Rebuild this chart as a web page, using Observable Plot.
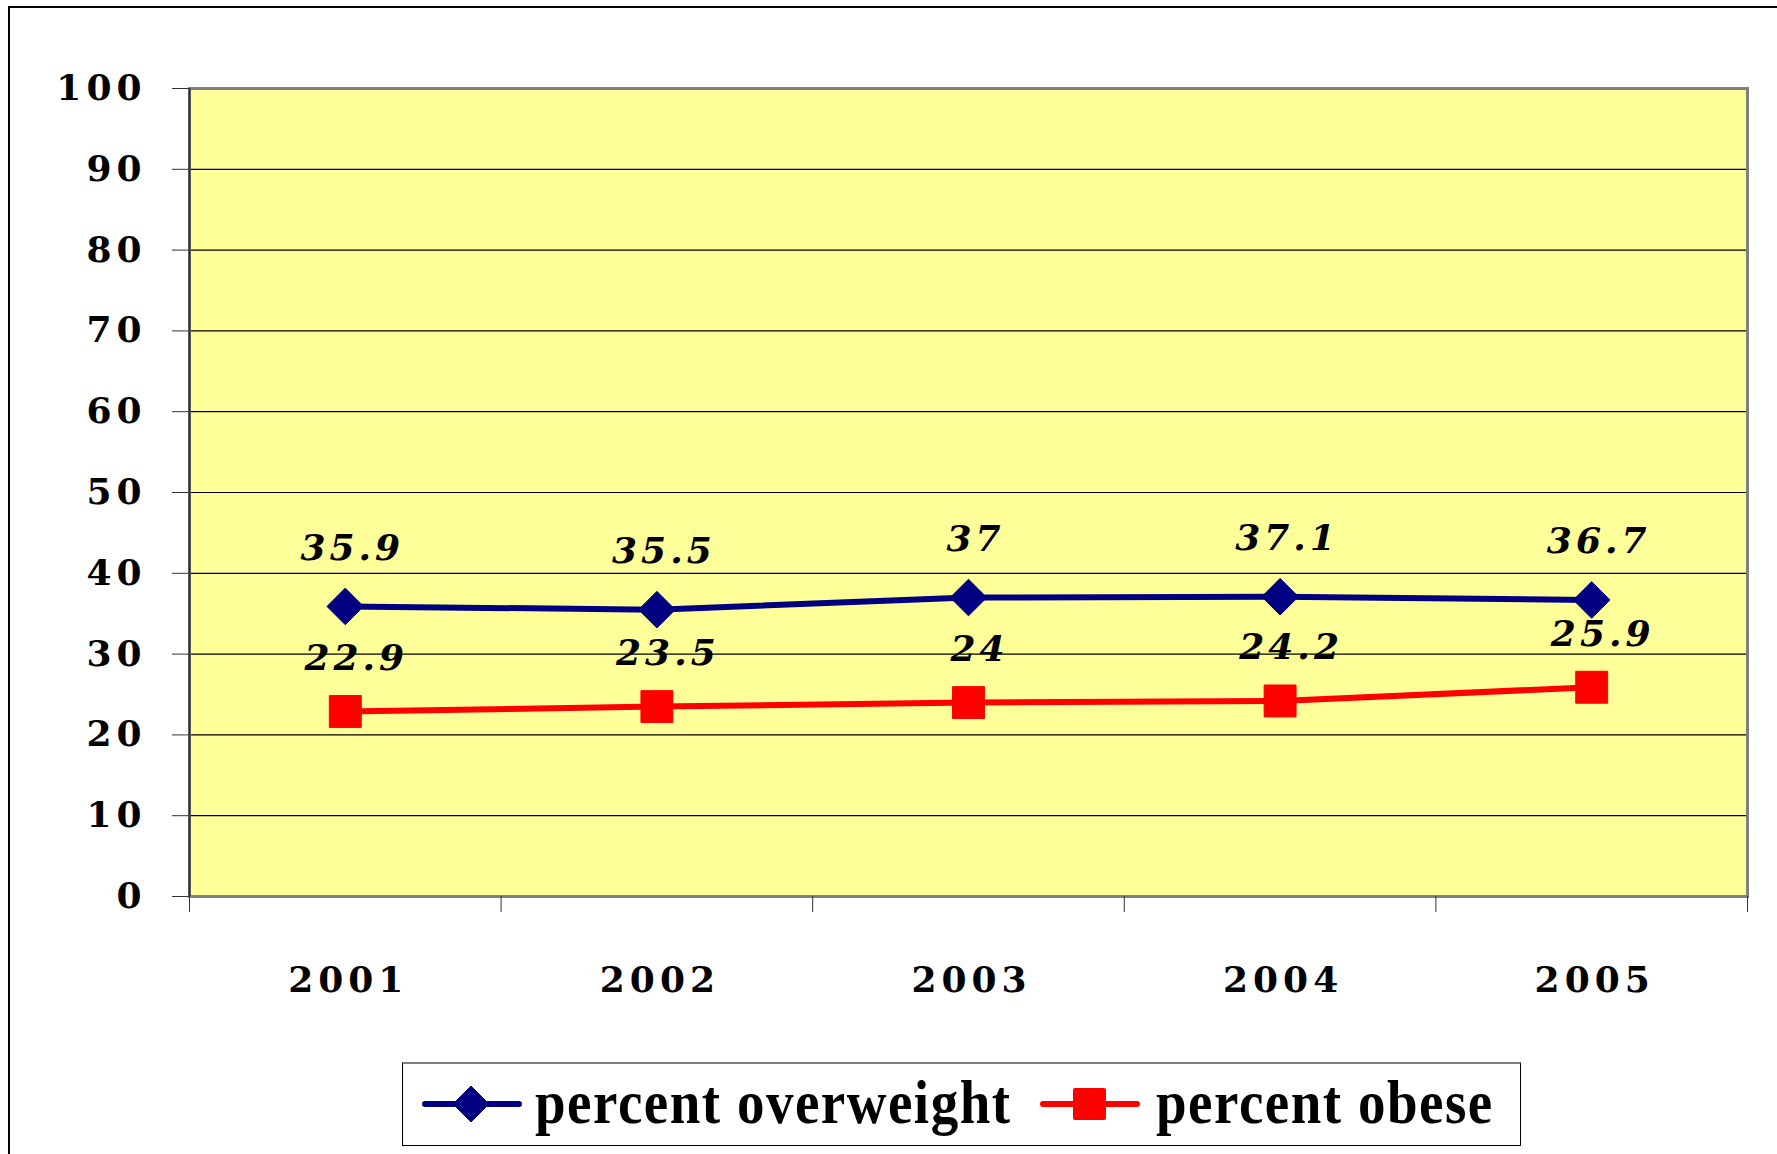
<!DOCTYPE html>
<html>
<head>
<meta charset="utf-8">
<script src="https://cdn.jsdelivr.net/npm/d3@7"></script>
<script src="https://cdn.jsdelivr.net/npm/@observablehq/plot@0.6"></script>
<style>
  html, body { margin: 0; padding: 0; background: #fff; overflow: hidden; width: 1777px; height: 1154px; }
  #outer { position: absolute; left: 8px; top: 6px; width: 1900px; height: 1300px; border-left: 2px solid #000; border-top: 2px solid #000; }
  #chart { position: absolute; left: 0; top: 0; }
  #chart svg g[aria-label="y-axis tick label"] text,
  #chart svg g[aria-label="x-axis tick label"] text { letter-spacing: 5px; }
  #chart svg g[aria-label="text"] text { letter-spacing: 4px; }
  #legend { position: absolute; left: 402px; top: 1062px; width: 1117px; height: 81px; border: 1px solid #000; border-top: 2px solid #808080; background: #fff;
            font-family: "Liberation Serif", serif; font-weight: bold; font-size: 55px; color: #000; letter-spacing: 1.5px; }
  #legend .lbl { position: absolute; top: 5px; white-space: nowrap; transform: scaleY(1.12); transform-origin: 0 60%; line-height: 70px; }
</style>
</head>
<body>
<div id="outer"></div>
<div id="chart"></div>
<div id="legend"></div>
<script>
const years = [2001, 2002, 2003, 2004, 2005];
const overweight = [35.9, 35.5, 37, 37.1, 36.7];
const obese = [22.9, 23.5, 24, 24.2, 25.9];
const seriesNames = ["percent overweight", "percent obese"];
const yTicks = [0, 10, 20, 30, 40, 50, 60, 70, 80, 90, 100];

const colors = { [seriesNames[0]]: "#000080", [seriesNames[1]]: "#FF0000" };

const ow = years.map((year, i) => ({ year, value: overweight[i], series: seriesNames[0] }));
const ob = years.map((year, i) => ({ year, value: obese[i], series: seriesNames[1] }));
const boundaries = [years[0] - 0.5, ...years.map(y => y + 0.5)];

const labelFont = { fontSize: 36, fontWeight: "bold", fontStyle: "italic", fontFamily: "DejaVu Serif", fill: "#000" };

const chart = Plot.plot({
  width: 1777,
  height: 1040,
  marginLeft: 189,
  marginRight: 30,
  marginTop: 88,
  marginBottom: 144,
  style: { background: "transparent", overflow: "visible" },
  x: { type: "linear", domain: [years[0] - 0.5, years[years.length - 1] + 0.5] },
  y: { domain: [0, 100] },
  marks: [
    Plot.frame({ fill: "#FFFF99", stroke: "none" }),
    Plot.ruleY(yTicks.filter(d => d > 0 && d < 100), { stroke: "#000", strokeWidth: 1.2 }),
    Plot.frame({ stroke: "#808080", strokeWidth: 3 }),
    Plot.ruleX([years[0] - 0.5], { stroke: "#333", strokeWidth: 2 }),
    Plot.axisY({ ticks: yTicks, tickSize: 17, tickPadding: 26, tickFormat: d => String(d), label: null,
      stroke: "#333", fontSize: 36, fontWeight: "bold", fontFamily: "DejaVu Serif", fill: "#000" }),
    Plot.axisX({ ticks: boundaries, tickSize: 16, tickFormat: () => "", label: null, stroke: "#333" }),
    Plot.axisX({ ticks: years, tickSize: 0, tickPadding: 70, tickFormat: d => String(d), label: null,
      fontSize: 36, fontWeight: "bold", fontFamily: "DejaVu Serif", fill: "#000", dx: 3 }),
    Plot.line(ow, { x: "year", y: "value", stroke: colors[seriesNames[0]], strokeWidth: 6 }),
    Plot.line(ob, { x: "year", y: "value", stroke: colors[seriesNames[1]], strokeWidth: 6 }),
    Plot.dot(ow, { x: "year", y: "value", symbol: "diamond2", r: 16.5, fill: colors[seriesNames[0]], stroke: colors[seriesNames[0]], strokeWidth: 1 }),
    Plot.dot(ob, { x: "year", y: "value", symbol: "square", r: 18, fill: colors[seriesNames[1]], stroke: colors[seriesNames[1]], strokeWidth: 1, strokeLinejoin: "round" }),
    Plot.text(ow, { x: "year", y: "value", text: d => String(d.value), dy: -58, dx: 7, ...labelFont }),
    Plot.text(ob, { x: "year", y: "value", text: d => String(d.value), dy: -53, dx: 11, ...labelFont })
  ]
});
document.getElementById("chart").appendChild(chart);

// Legend
const legend = document.getElementById("legend");
const items = [
  { name: seriesNames[0], symbol: "diamond", sx: 19, tx: 132 },
  { name: seriesNames[1], symbol: "square", sx: 637, tx: 753 }
];
items.forEach(it => {
  const sw = document.createElementNS("http://www.w3.org/2000/svg", "svg");
  sw.setAttribute("width", 100);
  sw.setAttribute("height", 81);
  sw.style.position = "absolute";
  sw.style.left = it.sx + "px";
  sw.style.top = "0px";
  const c = colors[it.name];
  let inner = `<line x1="3" x2="97" y1="40" y2="40" stroke="${c}" stroke-width="6" stroke-linecap="round"/>`;
  if (it.symbol === "diamond") inner += `<path d="M49,22L67,40L49,58L31,40Z" fill="${c}" stroke="${c}" stroke-linejoin="round"/>`;
  else inner += `<rect x="33" y="24" width="33" height="32" rx="2" fill="${c}"/>`;
  sw.innerHTML = inner;
  legend.appendChild(sw);
  const t = document.createElement("div");
  t.className = "lbl";
  t.style.left = it.tx + "px";
  t.textContent = it.name;
  legend.appendChild(t);
});
</script>
</body>
</html>
